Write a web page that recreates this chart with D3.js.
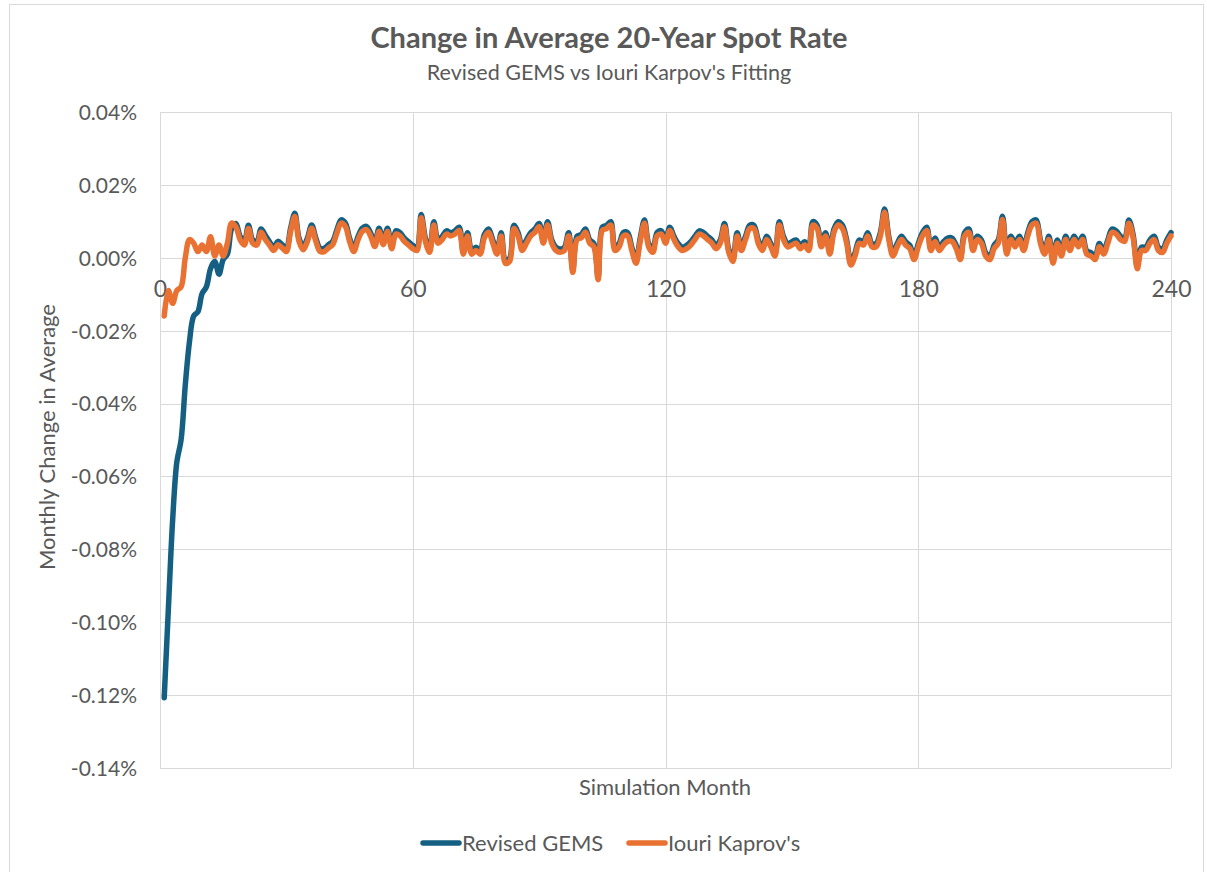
<!DOCTYPE html>
<html><head><meta charset="utf-8">
<script src="https://cdn.jsdelivr.net/npm/d3@7"></script>
<style>body{margin:0;background:#fff}svg{display:block}text{font-family:Lato,sans-serif;fill:#595959}</style>
</head><body><svg id="c" width="1207" height="872"></svg>
<script>
// months 1..240
const months = d3.range(1, 241);
const xTicks = [0, 60, 120, 180, 240];
const yTicks = [0.04, 0.02, 0, -0.02, -0.04, -0.06, -0.08, -0.10, -0.12, -0.14];
const seriesNames = ["Revised GEMS", "Iouri Kaprov's"];
const seriesColors = ["#156082", "#E97132"];
const gems = [
-0.1207,-0.096,-0.072,-0.056,-0.050,-0.035,-0.023,-0.016,-0.0148,-0.0098,
-0.008,-0.003,-0.001,-0.0045,-0.0005,0.001,0.008,0.0094,0.0059,0.0044,
0.0089,0.0049,0.0044,0.0079,0.0062,0.0044,0.0029,0.0045,0.0036,0.0026,
0.0081,0.0122,0.0054,0.0031,0.0054,0.0090,0.0054,0.0026,0.0026,0.0036,
0.0045,0.0077,0.0104,0.0095,0.0054,0.0026,0.0058,0.0081,0.0086,0.0068,
0.0040,0.0081,0.0045,0.0081,0.0034,0.0074,0.0069,0.0054,0.0044,0.0034,
0.0029,0.0119,0.0054,0.0024,0.0099,0.0049,0.0059,0.0074,0.0069,0.0074,
0.0084,0.0019,0.0069,0.0019,0.0029,0.0019,0.0064,0.0079,0.0049,0.0019,
0.0069,-0.0006,-0.0001,0.0089,0.0069,0.0029,0.0049,0.0069,0.0079,0.0094,
0.0049,0.0099,0.0049,0.0029,0.0024,0.0029,0.0069,-0.0031,0.0059,0.0064,
0.0079,0.0049,0.0039,-0.0051,0.0084,0.0089,0.0099,0.0029,0.0039,0.0069,
0.0069,0.0029,-0.0006,0.0054,0.0104,0.0039,0.0024,0.0069,0.0074,0.0049,
0.0084,0.0059,0.0039,0.0029,0.0034,0.0044,0.0059,0.0074,0.0069,0.0059,
0.0049,0.0034,0.0049,0.0094,0.0024,-0.0001,0.0069,0.0029,0.0059,0.0089,
0.0089,0.0049,0.0029,0.0059,0.0039,0.0014,0.0099,0.0059,0.0039,0.0044,
0.0049,0.0034,0.0044,0.0029,0.0099,0.0089,0.0039,0.0069,0.0019,0.0079,
0.0099,0.0089,0.0049,-0.0011,0.0014,0.0049,0.0044,0.0069,0.0039,0.0039,
0.0069,0.0134,0.0059,0.0014,0.0039,0.0059,0.0044,0.0034,0.0004,0.0039,
0.0069,0.0084,0.0029,0.0054,0.0029,0.0044,0.0054,0.0054,0.0034,0.0004,
0.0069,0.0079,0.0029,0.0059,0.0049,0.0014,0.0004,0.0034,0.0049,0.0114,
0.0019,0.0059,0.0039,0.0059,0.0029,0.0069,0.0099,0.0104,0.0049,0.0019,
0.0059,-0.0006,0.0049,0.0014,0.0059,0.0029,0.0059,0.0039,0.0059,0.0019,
0.0014,0.0004,0.0039,0.0019,0.0049,0.0079,0.0074,0.0059,0.0054,0.0104,
0.0064,-0.0021,0.0029,0.0029,0.0049,0.0059,0.0029,0.0024,0.0049,0.0069];
const karpov = [
-0.016,-0.009,-0.0125,-0.009,-0.008,0.000,0.005,0.004,0.0017,0.0035,
0.0017,0.0058,0.0005,0.0035,0.0005,0.004,0.0095,0.0085,0.005,0.0035,
0.008,0.004,0.0035,0.007,0.005,0.0035,0.002,0.0036,0.0027,0.0017,
0.0072,0.0113,0.0045,0.0022,0.0045,0.0081,0.0045,0.0017,0.0017,0.0027,
0.0036,0.0068,0.0095,0.0086,0.0045,0.0017,0.0049,0.0072,0.0077,0.0059,
0.0031,0.0072,0.0036,0.0072,0.0025,0.0065,0.006,0.0045,0.0035,0.0025,
0.002,0.011,0.0045,0.0015,0.009,0.004,0.005,0.0065,0.006,0.0065,
0.0075,0.001,0.006,0.001,0.002,0.001,0.0055,0.007,0.004,0.001,
0.006,-0.0015,-0.001,0.008,0.006,0.002,0.004,0.006,0.007,0.0085,
0.004,0.009,0.004,0.002,0.0015,0.002,0.006,-0.004,0.005,0.0055,
0.007,0.004,0.003,-0.006,0.0075,0.008,0.009,0.002,0.003,0.006,
0.006,0.002,-0.0015,0.0045,0.0095,0.003,0.0015,0.006,0.0065,0.004,
0.0075,0.005,0.003,0.002,0.0025,0.0035,0.005,0.0065,0.006,0.005,
0.004,0.0025,0.004,0.0085,0.0015,-0.001,0.006,0.002,0.005,0.008,
0.008,0.004,0.002,0.005,0.003,0.0005,0.009,0.005,0.003,0.0035,
0.004,0.0025,0.0035,0.002,0.009,0.008,0.003,0.006,0.001,0.007,
0.009,0.008,0.004,-0.002,0.0005,0.004,0.0035,0.006,0.003,0.003,
0.006,0.0125,0.005,0.0005,0.003,0.005,0.0035,0.0025,-0.0005,0.003,
0.006,0.0075,0.002,0.0045,0.002,0.0035,0.0045,0.0045,0.0025,-0.0005,
0.006,0.007,0.002,0.005,0.004,0.0005,-0.0005,0.0025,0.004,0.0105,
0.001,0.005,0.003,0.005,0.002,0.006,0.009,0.0095,0.004,0.001,
0.005,-0.0015,0.004,0.0005,0.005,0.002,0.005,0.003,0.005,0.001,
0.0005,-0.0005,0.003,0.001,0.004,0.007,0.0065,0.005,0.0045,0.0095,
0.0055,-0.003,0.002,0.002,0.004,0.005,0.002,0.0015,0.004,0.006];

const svg = d3.select("#c");
svg.append("rect").attr("x",9.5).attr("y",4.5).attr("width",1194).attr("height",900)
  .attr("fill","#fff").attr("stroke","#d9d9d9").attr("stroke-width",1);

const L = 160, R = 1171, T = 112, B = 768;
const x = d3.scaleLinear().domain([0, 240]).range([L, R]);
const y = d3.scaleLinear().domain([-0.14, 0.04]).range([B, T]);

// grid
const g = svg.append("g");
g.selectAll("line.h").data(yTicks).join("line")
  .attr("x1", L).attr("x2", R).attr("y1", d => Math.round(y(d))+0.5).attr("y2", d => Math.round(y(d))+0.5)
  .attr("stroke", "#d9d9d9").attr("stroke-width", 1);
g.selectAll("line.v").data(xTicks).join("line")
  .attr("x1", d => Math.round(x(d))+0.5).attr("x2", d => Math.round(x(d))+0.5).attr("y1", T).attr("y2", B)
  .attr("stroke", "#d9d9d9").attr("stroke-width", 1);

// y tick labels
const yAxis = d3.axisLeft(y).tickValues(yTicks).tickSize(0).tickPadding(0)
  .tickFormat(d => d.toFixed(2) + "%");
const ya = svg.append("g").attr("transform", `translate(${137},0)`).call(yAxis);
ya.select(".domain").remove();
ya.attr("font-family", null).attr("font-size", null);
ya.selectAll("text").style("font-size","21px").style("font-family","Lato,sans-serif").attr("fill","#595959").attr("dy","0.35em");

// x tick labels at zero line
const xAxis = d3.axisBottom(x).tickValues(xTicks).tickSize(0).tickPadding(0).tickFormat(d3.format("d"));
const xa = svg.append("g").attr("transform", `translate(0,${y(0)+31})`).call(xAxis);
xa.select(".domain").remove();
xa.attr("font-family", null).attr("font-size", null);
xa.selectAll("text").style("font-size","23px").style("font-family","Lato,sans-serif").attr("fill","#595959").attr("dy","0.35em");

// lines
const line = d3.line().x((d,i) => x(months[i])).y(d => y(d)).curve(d3.curveCatmullRom.alpha(0.5));
[gems, karpov].forEach((s, k) => {
  svg.append("path").datum(s).attr("d", line).attr("fill","none")
    .attr("stroke", seriesColors[k]).attr("stroke-width", 5.5)
    .attr("stroke-linejoin","round").attr("stroke-linecap","round");
});

// titles
svg.append("text").attr("x", 609).attr("y", 48).attr("text-anchor","middle")
  .style("font-size","29px").style("font-weight","bold")
  .text("Change in Average 20-Year Spot Rate");
svg.append("text").attr("x", 609).attr("y", 80).attr("text-anchor","middle")
  .style("font-size","21.5px")
  .text("Revised GEMS vs Iouri Karpov's Fitting");
svg.append("text").attr("x", 665).attr("y", 795).attr("text-anchor","middle")
  .style("font-size","22px")
  .text("Simulation Month");
svg.append("text").attr("transform","translate(55,437) rotate(-90)").attr("text-anchor","middle")
  .style("font-size","22px")
  .text("Monthly Change in Average");

// legend
const lg = svg.append("g");
const lx = [423, 629];
seriesNames.forEach((n, k) => {
  lg.append("line").attr("x1", lx[k]).attr("x2", lx[k]+36).attr("y1", 843).attr("y2", 843)
    .attr("stroke", seriesColors[k]).attr("stroke-width", 5.5).attr("stroke-linecap","round");
  lg.append("text").attr("x", lx[k]+39).attr("y", 843).attr("dy","0.35em")
    .style("font-size","22px").text(n);
});
</script></body></html>
